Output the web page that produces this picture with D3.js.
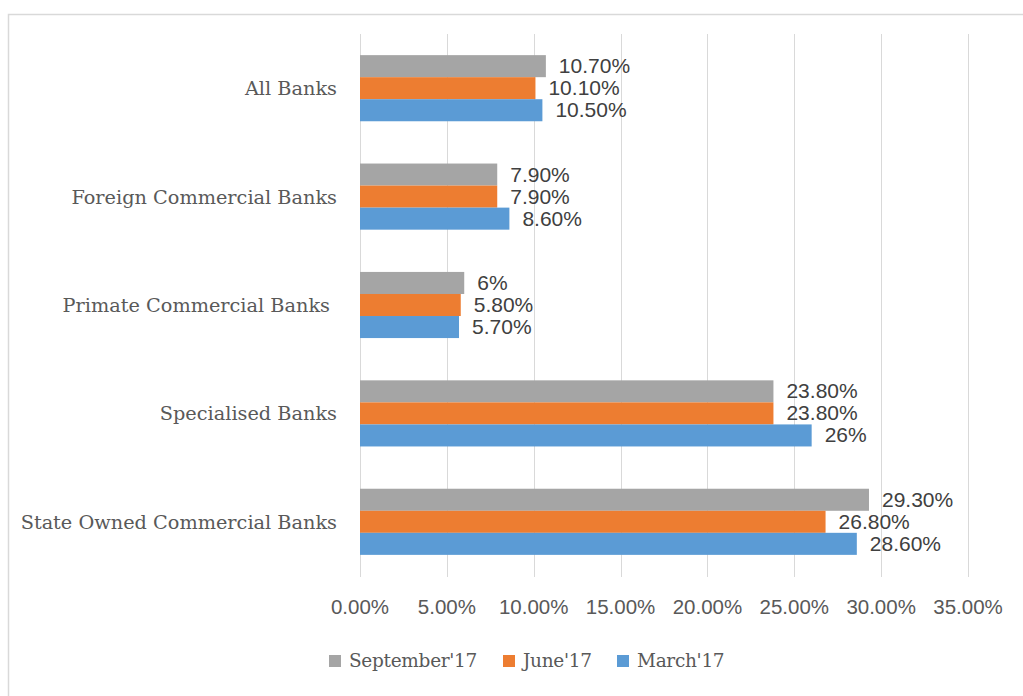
<!DOCTYPE html>
<html>
<head>
<meta charset="utf-8">
<script src="https://cdn.jsdelivr.net/npm/d3@7"></script>
<style>
  body { margin: 0; background: #fff; }
  svg { display: block; }
</style>
</head>
<body>
<div id="chart"></div>
<script>
const categories = ["All Banks", "Foreign Commercial Banks", "Primate Commercial Banks", "Specialised Banks", "State Owned Commercial Banks"];
const seriesNames = ["September'17", "June'17", "March'17"];
const september = [10.7, 7.9, 6, 23.8, 29.3];
const june = [10.1, 7.9, 5.8, 23.8, 26.8];
const march = [10.5, 8.6, 5.7, 26, 28.6];
const xTicks = [0, 5, 10, 15, 20, 25, 30, 35];

const colors = ["#A5A5A5", "#ED7D31", "#5B9BD5"];
const series = [september, june, march];

const W = 1023, H = 696;
const svg = d3.select("#chart").append("svg")
    .attr("width", W)
    .attr("height", H);

// chart frame
svg.append("rect")
    .attr("x", 8.5).attr("y", 14.5)
    .attr("width", 1200).attr("height", 900)
    .attr("fill", "none")
    .attr("stroke", "#D9D9D9")
    .attr("stroke-width", 1.5);

const x = d3.scaleLinear().domain([0, 35]).range([360, 968]);
const y = d3.scaleBand().domain(categories).range([34, 576]).paddingInner(0.39).paddingOuter(0.195);
const ySub = d3.scaleBand().domain(d3.range(series.length)).range([0, y.bandwidth()]);

// gridlines
svg.append("g")
    .selectAll("line")
    .data(xTicks)
    .enter()
    .append("line")
    .attr("x1", d => Math.round(x(d)) + 0.5)
    .attr("x2", d => Math.round(x(d)) + 0.5)
    .attr("y1", 34)
    .attr("y2", 577)
    .attr("stroke", "#D9D9D9")
    .attr("stroke-width", 1);

// x axis labels
svg.append("g")
    .selectAll("text")
    .data(xTicks)
    .enter()
    .append("text")
    .attr("x", d => x(d))
    .attr("y", 614)
    .attr("text-anchor", "middle")
    .attr("font-family", "'Liberation Sans', Arial, sans-serif")
    .attr("font-size", 20.5)
    .attr("fill", "#595959")
    .text(d => d.toFixed(2) + "%");

// category labels
svg.append("g")
    .selectAll("text")
    .data(categories)
    .enter()
    .append("text")
    .attr("x", (d, i) => i === 2 ? 330 : 337)
    .attr("y", d => y(d) + y.bandwidth() / 2 + 7)
    .attr("text-anchor", "end")
    .attr("font-family", "'DejaVu Serif', serif")
    .attr("font-size", 19.3)
    .attr("fill", "#595959")
    .text(d => d);

const fmt = v => Number.isInteger(v) ? v + "%" : v.toFixed(2) + "%";

// bars + labels
series.forEach((vals, s) => {
    const g = svg.append("g");
    g.selectAll("rect")
        .data(vals)
        .enter()
        .append("rect")
        .attr("x", x(0))
        .attr("y", (d, i) => y(categories[i]) + ySub(s))
        .attr("width", d => x(d) - x(0))
        .attr("height", ySub.bandwidth())
        .attr("fill", colors[s]);

    g.selectAll("text")
        .data(vals)
        .enter()
        .append("text")
        .attr("x", d => x(d) + 13)
        .attr("y", (d, i) => y(categories[i]) + ySub(s) + ySub.bandwidth() / 2 + 7)
        .attr("font-family", "'Liberation Sans', Arial, sans-serif")
        .attr("font-size", 21)
        .attr("fill", "#404040")
        .text(d => fmt(d));
});

// legend
const legendX = [329, 503, 617];
const legend = svg.append("g")
    .selectAll("g")
    .data(seriesNames)
    .enter()
    .append("g")
    .attr("transform", (d, i) => `translate(${legendX[i]},655)`);

legend.append("rect")
    .attr("width", 12)
    .attr("height", 12)
    .attr("fill", (d, i) => colors[i]);

legend.append("text")
    .attr("x", 20)
    .attr("y", 12)
    .attr("font-family", "'DejaVu Serif', serif")
    .attr("font-size", 18.5)
    .attr("letter-spacing", -0.3)
    .attr("fill", "#595959")
    .text(d => d);
</script>
</body>
</html>
